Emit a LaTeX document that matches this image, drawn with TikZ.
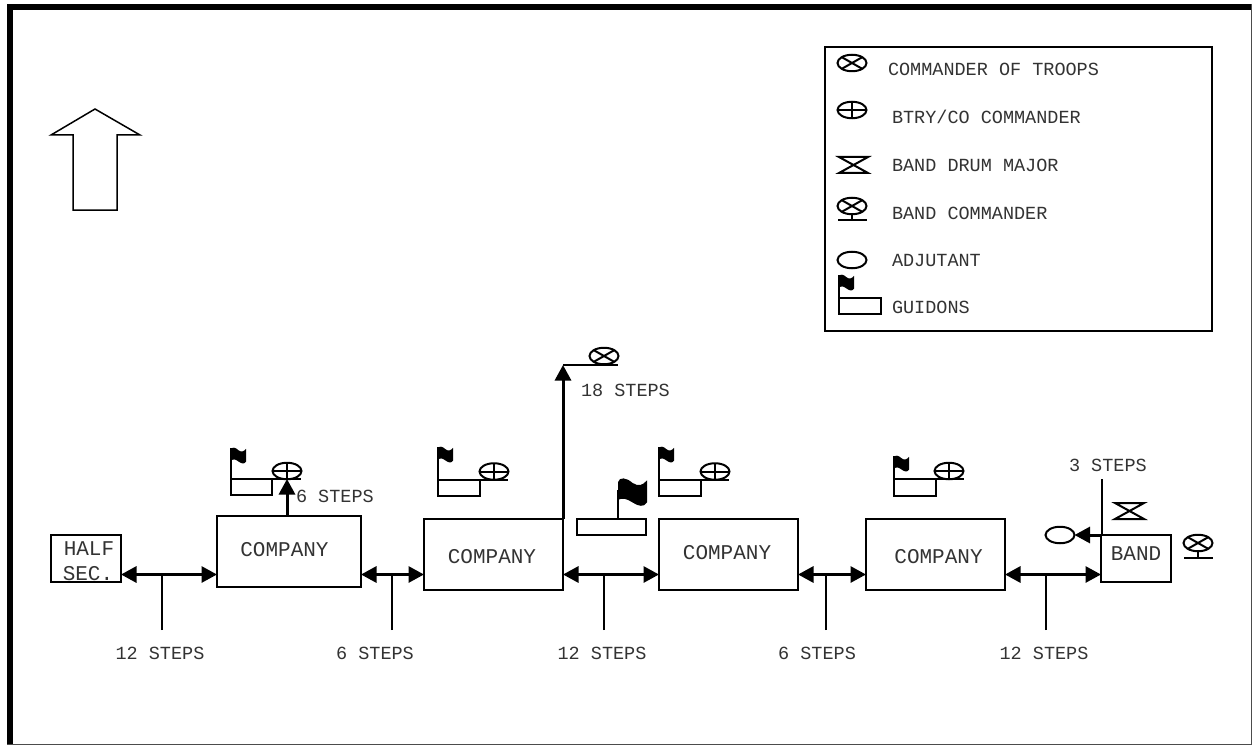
\documentclass[tikz,border=0pt]{standalone}
\usepackage{fontspec}
\setmonofont{Liberation Mono}
\usetikzlibrary{arrows.meta,shapes.geometric}
\tikzset{
  unitbox/.style={draw,rectangle,line width=2pt,inner sep=0pt,outer sep=0pt},
  txt/.style={font=\ttfamily\fontsize{18.5}{18.5}\selectfont,text=black!80,inner sep=0pt,outer sep=0pt,text height=12pt,text depth=0pt},
  big/.style={font=\ttfamily\fontsize{21}{21}\selectfont,text=black!80,inner sep=0pt,outer sep=0pt,text height=13.5pt,text depth=0pt},
  sym/.style={draw,ellipse,line width=2pt,minimum width=29pt,minimum height=16.5pt,inner sep=0pt,outer sep=0pt},
  adj/.style={sym},
  cot/.style={sym,path picture={
    \draw[line width=2pt] (path picture bounding box.north west) -- (path picture bounding box.south east);
    \draw[line width=2pt] (path picture bounding box.north east) -- (path picture bounding box.south west);}},
  btry/.style={sym,path picture={
    \draw[line width=2pt] (path picture bounding box.west) -- (path picture bounding box.east);
    \draw[line width=2pt] (path picture bounding box.north) -- (path picture bounding box.south);}},
  spacing/.style={line width=3pt,{Triangle[length=15.5pt,width=16pt]}-{Triangle[length=15.5pt,width=16pt]}},
  oneway/.style={line width=3pt,-{Triangle[length=15.5pt,width=16pt]}},
  tick/.style={line width=2pt},
  flag/.pic={
    \fill (0,0.12) .. controls (0.05,-0.1) and (0.3,-0.05) .. (0.5,0.15) .. controls (0.7,0.3) and (0.85,0.25) .. (1,0.05)
      -- (1,0.9) .. controls (0.9,1.1) and (0.7,1.05) .. (0.5,0.9) .. controls (0.3,0.75) and (0.15,0.72) .. (0,0.8) -- cycle;
  },
  hourglass/.pic={
    \draw[line width=2pt] (0,0) -- (29,0) -- (0,16) -- (29,16) -- cycle;
  }
}
\begin{document}
\begin{tikzpicture}[x=1pt,y=-1pt]
  \useasboundingbox (0,0) rectangle (1252,746);
  \fill[white] (0,0) rectangle (1252,746);
  \fill (7,4) rectangle (13,745);
  \fill (7,4) rectangle (1252,10);
  \draw[line width=1pt,black!70] (1251,4) -- (1251,744.5) -- (7,744.5);
  \draw[line width=1.5pt] (95,109) -- (140,135) -- (117,135) -- (117,210) -- (73,210) -- (73,135) -- (51,135) -- cycle;

  \node[unitbox,minimum width=387pt,minimum height=284pt] (legend) at (1018.5,189) {};
  \node[cot] (lcot) at (852,63) {};
  \node[btry] (lbtry) at (852,110) {};
  \pic at (839,157) {hourglass};
  \node[cot] (lband) at (852,206) {};
  \coordinate (lbandb) at (852,220);
  \draw[tick] (lband) -- (lbandb);
  \draw[tick] (838,220) -- (867,220);
  \node[adj] (ladj) at (852,260) {};
  \pic[scale=15] at (839,275) {flag};
  \node[unitbox,minimum width=42pt,minimum height=16pt] (lguid) at (860,306) {};
  \draw[tick] (lguid.north west) -- (839,275);
  \node[txt,anchor=west] at (888,70) {COMMANDER OF TROOPS};
  \node[txt,anchor=west] at (892,118) {BTRY/CO COMMANDER};
  \node[txt,anchor=west] at (892,166) {BAND DRUM MAJOR};
  \node[txt,anchor=west] at (892,213) {BAND COMMANDER};
  \node[txt,anchor=west] at (892,260) {ADJUTANT};
  \node[txt,anchor=west] at (892,307) {GUIDONS};

  \node[unitbox,minimum width=70pt,minimum height=47pt] (half) at (86,558.5) {};
  \node[unitbox,minimum width=144pt,minimum height=71pt] (cona) at (289,551.5) {};
  \node[unitbox,minimum width=139pt,minimum height=71pt] (conb) at (493.5,554.5) {};
  \node[unitbox,minimum width=139pt,minimum height=71pt] (conc) at (728.5,554.5) {};
  \node[unitbox,minimum width=139pt,minimum height=71pt] (cond) at (935.5,554.5) {};
  \node[unitbox,minimum width=70pt,minimum height=47pt] (band) at (1136,558.5) {};
  \node[big] at (89,549) {HALF};
  \node[big] at (88,574) {SEC.};
  \node[big] at (284.5,550) {COMPANY};
  \node[big] at (492,557) {COMPANY};
  \node[big] at (727,553) {COMPANY};
  \node[big] at (938.5,557) {COMPANY};
  \node[big] at (1136,554) {BAND};

  \coordinate (aline) at (0,574.5);
  \draw[spacing] (half.east |- aline) -- (cona.west |- aline);
  \draw[spacing] (cona.east |- aline) -- (conb.west |- aline);
  \draw[spacing] (conb.east |- aline) -- (conc.west |- aline);
  \draw[spacing] (conc.east |- aline) -- (cond.west |- aline);
  \draw[spacing] (cond.east |- aline) -- (band.west |- aline);
  \coordinate (ta) at (162,630);
  \coordinate (tb) at (392,630);
  \coordinate (tc) at (604,630);
  \coordinate (td) at (826,630);
  \coordinate (te) at (1046,630);
  \draw[tick] (ta) -- (ta |- aline);
  \draw[tick] (tb) -- (tb |- aline);
  \draw[tick] (tc) -- (tc |- aline);
  \draw[tick] (td) -- (td |- aline);
  \draw[tick] (te) -- (te |- aline);
  \node[txt] at (160,653) {12 STEPS};
  \node[txt] at (375,653) {6 STEPS};
  \node[txt] at (602,653) {12 STEPS};
  \node[txt] at (817,653) {6 STEPS};
  \node[txt] at (1044,653) {12 STEPS};

  \node[unitbox,minimum width=41pt,minimum height=16pt] (ga) at (251.5,487) {};
  \node[btry] (ca) at (287,471) {};
  \draw[tick] (ga.north east) -- (301,479);
  \draw[tick] (ga.north west) -- (231,448);
  \pic[scale=15] at (231,448) {flag};
  \draw[oneway] (ca |- cona.north) -- (ca |- ga.north);
  \node[txt,anchor=west] at (296,496) {6 STEPS};

  \node[unitbox,minimum width=42pt,minimum height=16pt] (gb) at (459,488) {};
  \node[btry] (cb) at (494,471.5) {};
  \draw[tick] (gb.north east) -- (508,480);
  \draw[tick] (gb.north west) -- (438,447);
  \pic[scale=15] at (438,447) {flag};

  \node[unitbox,minimum width=42pt,minimum height=16pt] (gc) at (680,488) {};
  \node[btry] (cc) at (715,471.5) {};
  \draw[tick] (gc.north east) -- (729,480);
  \draw[tick] (gc.north west) -- (659,447);
  \pic[scale=15] at (659,447) {flag};

  \node[unitbox,minimum width=42pt,minimum height=17pt] (gd) at (915,487.5) {};
  \node[btry] (cd) at (949,471) {};
  \draw[tick] (gd.north east) -- (964,479);
  \draw[tick] (gd.north west) -- (894,456);
  \pic[scale=15] at (894,456) {flag};

  \node[unitbox,minimum width=69pt,minimum height=16pt] (colors) at (611.5,527) {};
  \coordinate (cpole) at (618,490);
  \draw[tick] (colors.north -| cpole) -- (cpole);
  \pic[xscale=29,yscale=26] at (618,479) {flag};

  \coordinate (cottop) at (563,365);
  \node[cot] (cot) at (604,356) {};
  \draw[oneway] (conb.north east) -- (cottop);
  \draw[tick] (cottop) -- (618,365);
  \node[txt,anchor=west] at (581,390) {18 STEPS};

  \node[txt,anchor=west] at (1069,465) {3 STEPS};
  \coordinate (sthree) at (1102,479);
  \draw[tick] (sthree) -- (sthree |- band.north);
  \pic at (1115,503) {hourglass};
  \node[adj] (adjt) at (1060,535) {};
  \draw[oneway] (band.north west) -- (adjt.east);
  \node[cot] (bcom) at (1198,543) {};
  \coordinate (bcomb) at (1198,558);
  \draw[tick] (bcom) -- (bcomb);
  \draw[tick] (1184,558) -- (1213,558);
\end{tikzpicture}
\end{document}
